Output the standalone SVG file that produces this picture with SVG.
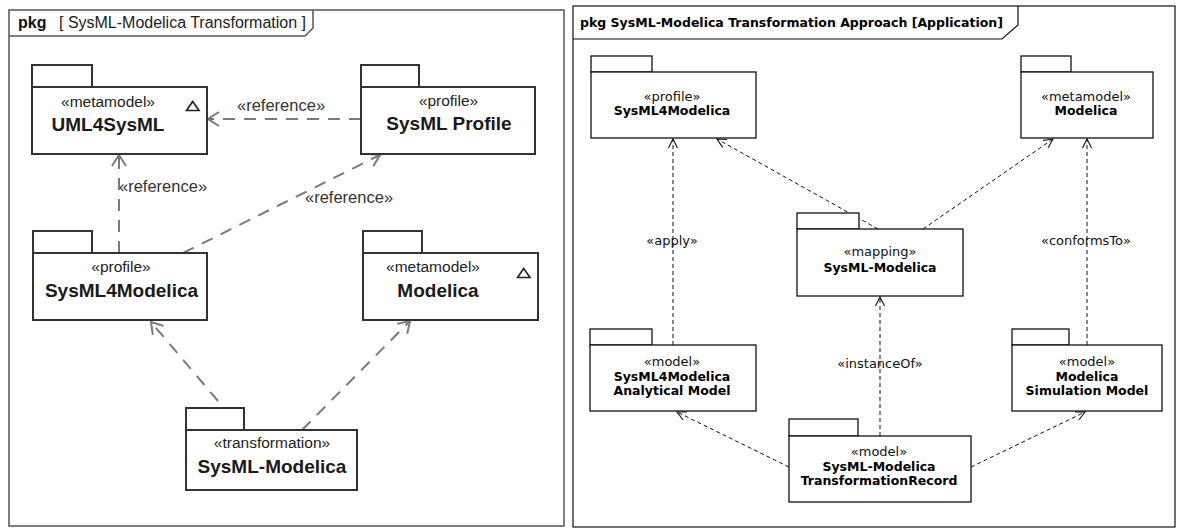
<svg xmlns="http://www.w3.org/2000/svg" width="1177" height="529" viewBox="0 0 1177 529">
<style>
.frameL{fill:none;stroke:#555;stroke-width:1.5}
.frameR{fill:none;stroke:#111;stroke-width:1.2}
.lbox{fill:#fff;stroke:#333;stroke-width:2}
.rbox{fill:#fff;stroke:#111;stroke-width:1.3}
.lst{font-family:"Liberation Sans",Arial,sans-serif;font-size:15.5px;fill:#222;text-anchor:middle}
.lnm{font-family:"Liberation Sans",Arial,sans-serif;font-size:19px;font-weight:bold;fill:#1a1a1a;text-anchor:middle}
.llab{font-family:"Liberation Sans",Arial,sans-serif;font-size:16.5px;fill:#333}
.rst{font-family:"DejaVu Sans",sans-serif;font-size:13px;fill:#111;text-anchor:middle}
.rnm{font-family:"DejaVu Sans",sans-serif;font-size:12.5px;font-weight:bold;fill:#000;text-anchor:middle}
.lcon{fill:none;stroke:#7a7a7a;stroke-width:2;stroke-dasharray:12 9}
.rcon{fill:none;stroke:#111;stroke-width:1;stroke-dasharray:4 3}
.tri{fill:none;stroke:#222;stroke-width:1.6}
</style>
<defs>
<marker id="arrL" viewBox="-13 -9 15 18" refX="0" refY="0" markerWidth="15" markerHeight="18" markerUnits="userSpaceOnUse" orient="auto">
<path d="M-11,-7 L0,0 L-11,7" fill="none" stroke="#7a7a7a" stroke-width="2" stroke-dasharray="none"/>
</marker>
<marker id="arrR" viewBox="-11 -6 13 12" refX="0" refY="0" markerWidth="13" markerHeight="12" markerUnits="userSpaceOnUse" orient="auto">
<path d="M-9,-4.5 L0,0 L-9,4.5" fill="none" stroke="#111" stroke-width="1.1" stroke-dasharray="none"/>
</marker>
</defs>
<rect width="1177" height="529" fill="#fff"/>

<!-- Left frame -->
<g id="frameLeft">
<rect class="frameL" x="9" y="10" width="555" height="516"/>
<path class="frameL" d="M9,36 L305,36 L313,28 L313,10"/>
<text x="18" y="28" font-family="Liberation Sans, Arial, sans-serif" font-size="16" font-weight="bold" fill="#111">pkg</text>
<text x="59" y="28" font-family="Liberation Sans, Arial, sans-serif" font-size="16" fill="#222" textLength="247" lengthAdjust="spacingAndGlyphs">[ SysML-Modelica Transformation ]</text>
</g>

<!-- Right frame -->
<g id="frameRight">
<rect class="frameR" x="573" y="6" width="602" height="521"/>
<path class="frameR" d="M573,39 L1002,39 L1018,25 L1018,6"/>
<text x="580" y="27" font-family="DejaVu Sans, sans-serif" font-size="12.5" font-weight="bold" fill="#000" textLength="423" lengthAdjust="spacingAndGlyphs">pkg SysML-Modelica Transformation Approach [Application]</text>
</g>

<!-- Left connectors -->
<g id="connectorsLeft">
<line class="lcon" x1="361" y1="119" x2="208" y2="119" marker-end="url(#arrL)"/>
<line class="lcon" x1="119" y1="253" x2="119" y2="155" marker-end="url(#arrL)"/>
<line class="lcon" x1="183" y1="253" x2="380" y2="155" marker-end="url(#arrL)"/>
<line class="lcon" x1="218" y1="401" x2="151" y2="322" marker-end="url(#arrL)"/>
<line class="lcon" x1="302" y1="430" x2="410" y2="321" marker-end="url(#arrL)"/>
<text class="llab" x="237" y="111">«reference»</text>
<text class="llab" x="119" y="192">«reference»</text>
<text class="llab" x="305" y="203">«reference»</text>
</g>

<!-- Left nodes -->
<g id="L_UML4SysML">
<rect class="lbox" x="32" y="65" width="60" height="22"/>
<rect class="lbox" x="32" y="87" width="175" height="67"/>
<text class="lst" x="108" y="107">«metamodel»</text>
<text class="lnm" x="108" y="131">UML4SysML</text>
<path class="tri" d="M186.5,110.5 L199,110.5 L192.7,101.5 Z"/>
</g>
<g id="L_SysMLProfile">
<rect class="lbox" x="361" y="65" width="58" height="22"/>
<rect class="lbox" x="361" y="87" width="174" height="67"/>
<text class="lst" x="448.5" y="106">«profile»</text>
<text class="lnm" x="449" y="130">SysML Profile</text>
</g>
<g id="L_SysML4Modelica">
<rect class="lbox" x="33" y="231" width="59" height="22"/>
<rect class="lbox" x="33" y="253" width="174" height="67"/>
<text class="lst" x="121" y="272">«profile»</text>
<text class="lnm" x="121.5" y="297">SysML4Modelica</text>
</g>
<g id="L_Modelica">
<rect class="lbox" x="363" y="231" width="59" height="22"/>
<rect class="lbox" x="363" y="253" width="175" height="67"/>
<text class="lst" x="433" y="272">«metamodel»</text>
<text class="lnm" x="438" y="297">Modelica</text>
<path class="tri" d="M517.5,277.5 L530,277.5 L523.7,268.5 Z"/>
</g>
<g id="L_Transformation">
<rect class="lbox" x="186" y="408" width="58" height="22"/>
<rect class="lbox" x="186" y="430" width="171" height="60"/>
<text class="lst" x="272" y="448">«transformation»</text>
<text class="lnm" x="272" y="473">SysML-Modelica</text>
</g>

<!-- Right connectors -->
<g id="connectorsRight">
<line class="rcon" x1="673" y1="345" x2="673" y2="139" marker-end="url(#arrR)"/>
<line class="rcon" x1="878" y1="229" x2="717" y2="139" marker-end="url(#arrR)"/>
<line class="rcon" x1="923" y1="229" x2="1053" y2="139" marker-end="url(#arrR)"/>
<line class="rcon" x1="1087" y1="345" x2="1087" y2="139" marker-end="url(#arrR)"/>
<line class="rcon" x1="880" y1="436" x2="880" y2="297" marker-end="url(#arrR)"/>
<line class="rcon" x1="789" y1="467" x2="677" y2="412" marker-end="url(#arrR)"/>
<line class="rcon" x1="971" y1="467" x2="1085" y2="412" marker-end="url(#arrR)"/>
<text class="rst" x="672" y="245">«apply»</text>
<text class="rst" x="1086" y="245">«conformsTo»</text>
<text class="rst" x="880" y="368">«instanceOf»</text>
</g>

<!-- Right nodes -->
<g id="R_SysML4Modelica">
<rect class="rbox" x="591" y="56" width="61" height="16"/>
<rect class="rbox" x="591" y="72" width="165" height="66"/>
<text class="rst" x="672" y="101">«profile»</text>
<text class="rnm" x="672" y="115">SysML4Modelica</text>
</g>
<g id="R_Modelica">
<rect class="rbox" x="1021" y="56" width="50" height="16"/>
<rect class="rbox" x="1021" y="72" width="132" height="66"/>
<text class="rst" x="1086" y="101">«metamodel»</text>
<text class="rnm" x="1086" y="115">Modelica</text>
</g>
<g id="R_Mapping">
<rect class="rbox" x="797" y="213" width="62" height="16"/>
<rect class="rbox" x="797" y="229" width="166" height="67"/>
<text class="rst" x="880" y="256">«mapping»</text>
<text class="rnm" x="880" y="272">SysML-Modelica</text>
</g>
<g id="R_Analytical">
<rect class="rbox" x="590" y="329" width="62" height="16"/>
<rect class="rbox" x="590" y="345" width="166" height="66"/>
<text class="rst" x="672" y="366">«model»</text>
<text class="rnm" x="672" y="381">SysML4Modelica</text>
<text class="rnm" x="672" y="395">Analytical Model</text>
</g>
<g id="R_Simulation">
<rect class="rbox" x="1012" y="329" width="57" height="16"/>
<rect class="rbox" x="1012" y="345" width="150" height="66"/>
<text class="rst" x="1087" y="366">«model»</text>
<text class="rnm" x="1087" y="381">Modelica</text>
<text class="rnm" x="1087" y="395">Simulation Model</text>
</g>
<g id="R_Record">
<rect class="rbox" x="789" y="419" width="69" height="17"/>
<rect class="rbox" x="789" y="436" width="182" height="66"/>
<text class="rst" x="879" y="456">«model»</text>
<text class="rnm" x="879" y="471">SysML-Modelica</text>
<text class="rnm" x="879" y="485">TransformationRecord</text>
</g>
</svg>
